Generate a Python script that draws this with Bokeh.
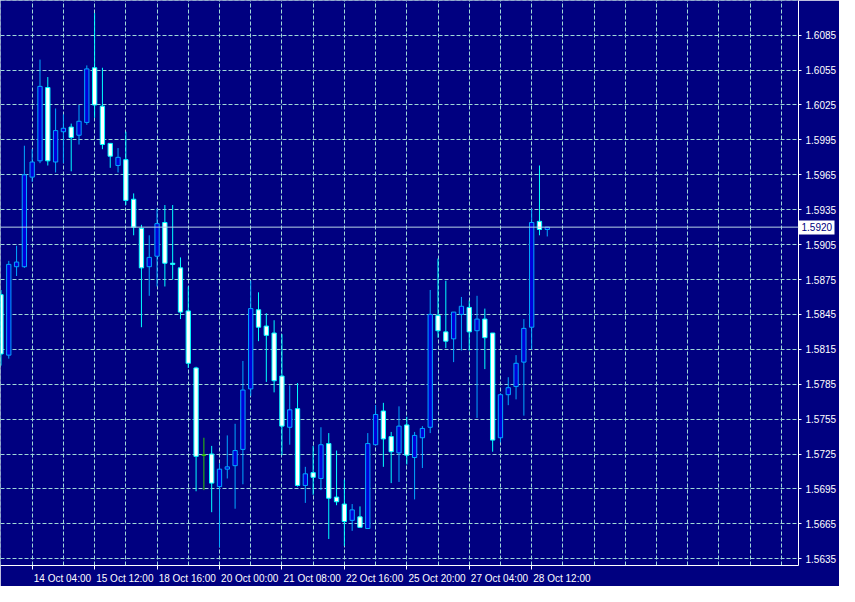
from bokeh.plotting import figure
from bokeh.models import FixedTicker, Range1d, Span, NumeralTickFormatter, ColumnDataSource, LinearAxis
from bokeh.embed import file_html
from bokeh.resources import INLINE

# ---------------- data (H4 candles) ----------------
opens = [1.5862, 1.5810, 1.5886, 1.5886, 1.5963, 1.5977, 1.6040, 1.5976, 1.6002, 1.6006,
         1.5999, 1.6010, 1.6057, 1.6024, 1.5992, 1.5973, 1.5978, 1.5944, 1.5919, 1.5886,
         1.5895, 1.5924, 1.5889, 1.5885, 1.5848, 1.5799, 1.5724, 1.5725, 1.5697, 1.5712,
         1.5715, 1.5729, 1.5781, 1.5849, 1.5835, 1.5829, 1.5792, 1.5748, 1.5764, 1.5698,
         1.5709, 1.5704, 1.5734, 1.5688, 1.5682, 1.5668, 1.5671, 1.5661, 1.5733, 1.5762,
         1.5740, 1.5726, 1.5750, 1.5722, 1.5739, 1.5748, 1.5844, 1.5830, 1.5824, 1.5845,
         1.5851, 1.5831, 1.5841, 1.5829, 1.5739, 1.5776, 1.5783, 1.5804, 1.5834, 1.5925,
         1.5918]
highs = [1.5866, 1.5891, 1.5904, 1.5990, 1.5987, 1.6064, 1.6049, 1.6022, 1.6017, 1.6009,
         1.6025, 1.6059, 1.6104, 1.6057, 1.5992, 1.5988, 1.6002, 1.5949, 1.5922, 1.5913,
         1.5936, 1.5939, 1.5939, 1.5894, 1.5869, 1.5800, 1.5739, 1.5732, 1.5717, 1.5741,
         1.5751, 1.5805, 1.5874, 1.5864, 1.5846, 1.5840, 1.5828, 1.5784, 1.5786, 1.5714,
         1.5732, 1.5748, 1.5743, 1.5728, 1.5703, 1.5682, 1.5680, 1.5743, 1.5767, 1.5769,
         1.5744, 1.5766, 1.5757, 1.5744, 1.5749, 1.5866, 1.5893, 1.5874, 1.5847, 1.5860,
         1.5857, 1.5861, 1.5850, 1.5829, 1.5777, 1.5791, 1.5810, 1.5841, 1.5936, 1.5973,
         1.5920]
lows = [1.5801, 1.5807, 1.5878, 1.5885, 1.5959, 1.5975, 1.5973, 1.5967, 1.5975, 1.5968,
        1.5991, 1.6008, 1.6014, 1.5987, 1.5971, 1.5967, 1.5939, 1.5913, 1.5834, 1.5861,
        1.5869, 1.5869, 1.5875, 1.5841, 1.5799, 1.5693, 1.5694, 1.5675, 1.5645, 1.5704,
        1.5678, 1.5699, 1.5775, 1.5822, 1.5787, 1.5778, 1.5724, 1.5733, 1.5697, 1.5683,
        1.5690, 1.5694, 1.5652, 1.5681, 1.5646, 1.5659, 1.5662, 1.5661, 1.5733, 1.5714,
        1.5700, 1.5701, 1.5716, 1.5686, 1.5713, 1.5743, 1.5825, 1.5816, 1.5804, 1.5814,
        1.5814, 1.5756, 1.5798, 1.5727, 1.5735, 1.5767, 1.5772, 1.5758, 1.5815, 1.5913,
        1.5912]
closes = [1.5811, 1.5888, 1.5890, 1.5965, 1.5976, 1.6041, 1.5977, 1.6003, 1.6005, 1.5997,
          1.6011, 1.6056, 1.6025, 1.5991, 1.5981, 1.5980, 1.5943, 1.5920, 1.5885, 1.5894,
          1.5923, 1.5889, 1.5888, 1.5847, 1.5803, 1.5723, 1.5724, 1.5700, 1.5712, 1.5714,
          1.5728, 1.5780, 1.5850, 1.5834, 1.5827, 1.5788, 1.5749, 1.5763, 1.5698, 1.5708,
          1.5705, 1.5733, 1.5687, 1.5684, 1.5667, 1.5677, 1.5662, 1.5734, 1.5759, 1.5738,
          1.5727, 1.5749, 1.5724, 1.5741, 1.5747, 1.5845, 1.5831, 1.5822, 1.5847, 1.5852,
          1.5830, 1.5841, 1.5825, 1.5737, 1.5776, 1.5782, 1.5803, 1.5833, 1.5924, 1.5918,
          1.5920]

current_price = 1.5920
price_ticks = [1.5635, 1.5665, 1.5695, 1.5725, 1.5755, 1.5785, 1.5815, 1.5845, 1.5875,
               1.5905, 1.5935, 1.5965, 1.5995, 1.6025, 1.6055, 1.6085, 1.6115]
time_tick_index = [-4, 4, 12, 20, 28, 36, 44, 52, 60, 68]
time_tick_labels = ["13 Oct 20:00", "14 Oct 04:00", "15 Oct 12:00", "18 Oct 16:00",
                    "20 Oct 00:00", "21 Oct 08:00", "22 Oct 16:00", "25 Oct 20:00",
                    "27 Oct 04:00", "28 Oct 12:00"]

# ---------------- styling ----------------
BG = "#000080"
GRID = "#A0D8D8"
BULL_FILL = "#0000D8"
BULL_LINE = "#00A8FF"
BEAR_FILL = "#FFFFFF"
BEAR_LINE = "#00FFFF"
DOJI = "#2EC800"
FONT = "Liberation Sans"
FS = "10px"

n = len(opens)
xs = list(range(n))
fills, lines, wicks, tops, bottoms = [], [], [], [], []
for o, c in zip(opens, closes):
    if c > o:
        fills.append(BULL_FILL); lines.append(BULL_LINE); wicks.append(BULL_LINE)
    elif c < o:
        fills.append(BEAR_FILL); lines.append(BEAR_LINE); wicks.append(BEAR_LINE)
    else:
        fills.append(DOJI); lines.append(DOJI); wicks.append(DOJI)
    tops.append(max(o, c)); bottoms.append(min(o, c))

src = ColumnDataSource(dict(x=xs, high=highs, low=lows, top=tops, bottom=bottoms,
                            fill=fills, line=lines, wick=wicks))

y0, y1 = 1.56292, 1.61148
p = figure(width=839, height=586, output_backend="svg", toolbar_location=None,
           x_range=Range1d(-0.06, 102.19), y_range=Range1d(y0, y1),
           y_axis_location="right", x_axis_location="below",
           background_fill_color=BG, border_fill_color=BG,
           min_border_left=0, min_border_top=0, min_border_right=36, min_border_bottom=18,
           outline_line_color=None)

# --- right side: axis nearest the frame carries the current-price tag ---
tag_axis = p.yaxis[0]
tag_axis.ticker = FixedTicker(ticks=[current_price], minor_ticks=price_ticks)
tag_axis.formatter = NumeralTickFormatter(format="0.0000")
tag_axis.axis_line_color = "white"
tag_axis.major_tick_line_color = "white"
tag_axis.major_tick_line_width = 14
tag_axis.major_tick_out = 36
tag_axis.major_tick_in = 0
tag_axis.minor_tick_line_color = "white"
tag_axis.minor_tick_out = 3
tag_axis.minor_tick_in = 0
tag_axis.major_label_standoff = -33
tag_axis.major_label_text_color = BG
tag_axis.major_label_text_font = FONT
tag_axis.major_label_text_font_size = FS

# --- price scale labels ---
price_axis = LinearAxis(ticker=FixedTicker(ticks=price_ticks),
                        formatter=NumeralTickFormatter(format="0.0000"))
price_axis.axis_line_color = None
price_axis.major_tick_line_color = None
price_axis.minor_tick_line_color = None
price_axis.major_tick_out = 0
price_axis.major_tick_in = 0
price_axis.major_label_standoff = -30
price_axis.major_label_text_color = "white"
price_axis.major_label_text_font = FONT
price_axis.major_label_text_font_size = FS
p.add_layout(price_axis, "right")

# --- time axis: small tick marks at the times, labels starting just right of them ---
label_shift = 3.875
label_pos = [t + label_shift for t in time_tick_index]
time_axis = p.xaxis[0]
time_axis.ticker = FixedTicker(ticks=label_pos, minor_ticks=time_tick_index)
time_axis.major_label_overrides = {pos: lab for pos, lab in zip(label_pos, time_tick_labels)}
time_axis.axis_line_color = "white"
time_axis.major_tick_line_color = None
time_axis.major_tick_out = 0
time_axis.major_tick_in = 0
time_axis.minor_tick_line_color = "white"
time_axis.minor_tick_out = 4
time_axis.minor_tick_in = 0
time_axis.major_label_standoff = 3
time_axis.major_label_text_color = "white"
time_axis.major_label_text_font = FONT
time_axis.major_label_text_font_size = FS

# grid
p.xgrid.ticker = FixedTicker(ticks=list(range(0, 104, 4)))
p.ygrid.ticker = FixedTicker(ticks=price_ticks)
p.grid.grid_line_color = GRID
p.grid.grid_line_dash = "4 2"
p.grid.grid_line_width = 1

# current price line
p.add_layout(Span(location=current_price, dimension="width", line_color="#B8D4E8", line_width=1))

# candles
p.segment(x0="x", y0="low", x1="x", y1="high", line_color="wick", line_width=1, source=src)
p.vbar(x="x", width=0.55, top="top", bottom="bottom", fill_color="fill",
       line_color="line", line_width=1, source=src)

open("out.html", "w").write(file_html(p, INLINE))
